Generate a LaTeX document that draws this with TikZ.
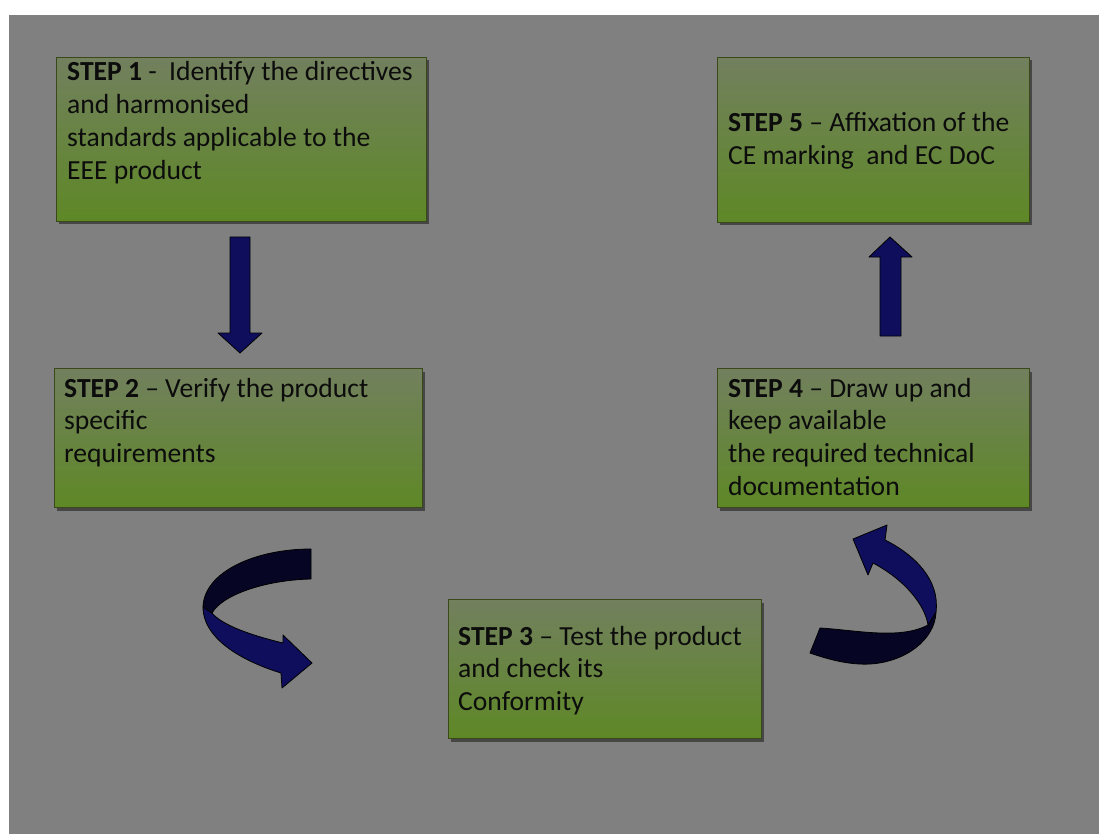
\documentclass[tikz,border=0pt]{standalone}
\usepackage{fontspec}
\setmainfont{Carlito}
\usetikzlibrary{shadows}

\definecolor{panel}{RGB}{128,128,128}
\definecolor{boxtop}{RGB}{114,128,94}
\definecolor{boxbot}{RGB}{94,136,38}
\definecolor{boxline}{RGB}{58,72,26}
\definecolor{navy}{RGB}{14,14,92}
\definecolor{navydark}{RGB}{6,6,36}
\definecolor{ink}{RGB}{12,12,12}

% multi-line label whose reference point is the baseline of its first line
\newcommand{\steplines}[1]{\parbox[t]{500pt}{\raggedright #1}}

\tikzset{
  stepbox/.style={draw=boxline, line width=1pt, top color=boxtop, bottom color=boxbot,
    anchor=north west, inner sep=0pt,
    drop shadow={shadow xshift=2pt, shadow yshift=-3pt, opacity=0.45, fill=black}},
  steptext/.style={anchor=base west, inner sep=0pt, text=ink,
    font=\fontsize{27.6}{32.8}\selectfont},
  bigarrow/.style={fill=navy, draw=black, line width=0.8pt, line join=round},
  darkband/.style={fill=navydark, draw=black, line width=0.8pt, line join=round}
}

\begin{document}
\begin{tikzpicture}[x=1pt, y=-1pt]
  % page and grey panel
  \useasboundingbox (0,0) rectangle (1099,834);
  \fill[white] (0,0) rectangle (1099,834);
  \fill[panel] (9,15) rectangle (1099,834);

  % step boxes
  \node[stepbox, minimum width=370pt, minimum height=164pt] (s1) at (56,57) {};
  \node[stepbox, minimum width=368pt, minimum height=139pt] (s2) at (54,368) {};
  \node[stepbox, minimum width=313pt, minimum height=139pt] (s3) at (448,599) {};
  \node[stepbox, minimum width=312pt, minimum height=139pt] (s4) at (717,368) {};
  \node[stepbox, minimum width=312pt, minimum height=165pt] (s5) at (717,57) {};

  % step texts
  \node[steptext] (t1) at (67,81) {\steplines{\textbf{STEP 1} -\ \ Identify the directives\\and harmonised\\standards applicable to the\\EEE product}};
  \node[steptext] (t2) at (64,397) {\steplines{\textbf{STEP 2} – Verify the product\\specific\\requirements}};
  \node[steptext] (t3) at (458,645) {\steplines{\textbf{STEP 3} – Test the product\\and check its\\Conformity}};
  \node[steptext] (t4) at (728,397) {\steplines{\textbf{STEP 4} – Draw up and\\keep available\\the required technical\\documentation}};
  \node[steptext] (t5) at (728,132) {\steplines{\textbf{STEP 5} – Affixation of the\\CE marking\ \ and EC DoC}};

  % straight arrow from step 1 to step 2
  \draw[bigarrow] (230,237) -- (250,237) -- (250,333) -- (262,333) -- (240,353)
    -- (218,333) -- (230,333) -- cycle;

  % straight arrow from step 4 to step 5
  \draw[bigarrow] (880,336) -- (901,336) -- (901,257) -- (912,257) -- (890,237)
    -- (869,257) -- (880,257) -- cycle;

  % curved arrow from step 2 to step 3 (lower band with head)
  \draw[bigarrow] (203,607)
    .. controls (203,640) and (245,662) .. (281,673)
    -- (282,688) -- (312,663) -- (283,635) -- (283,643)
    .. controls (250,635) and (222,625) .. (212,613) -- cycle;
  % upper band of the same arrow
  \draw[darkband] (311,549)
    .. controls (255,549) and (204,572) .. (203,607)
    -- (212,613)
    .. controls (222,595) and (265,580) .. (311,579) -- cycle;

  % curved arrow from step 3 to step 4 (lower band)
  \draw[darkband] (820,628)
    .. controls (855,630) and (900,640) .. (928,625)
    -- (936,612)
    .. controls (935,640) and (905,662) .. (870,664)
    .. controls (850,665) and (830,660) .. (810,653) -- cycle;
  % upper band with head
  \draw[bigarrow] (928,625)
    .. controls (925,605) and (905,580) .. (873,563)
    -- (868,575) -- (853,539) -- (887,525) -- (885,540)
    .. controls (915,555) and (940,580) .. (936,612) -- cycle;
\end{tikzpicture}
\end{document}
